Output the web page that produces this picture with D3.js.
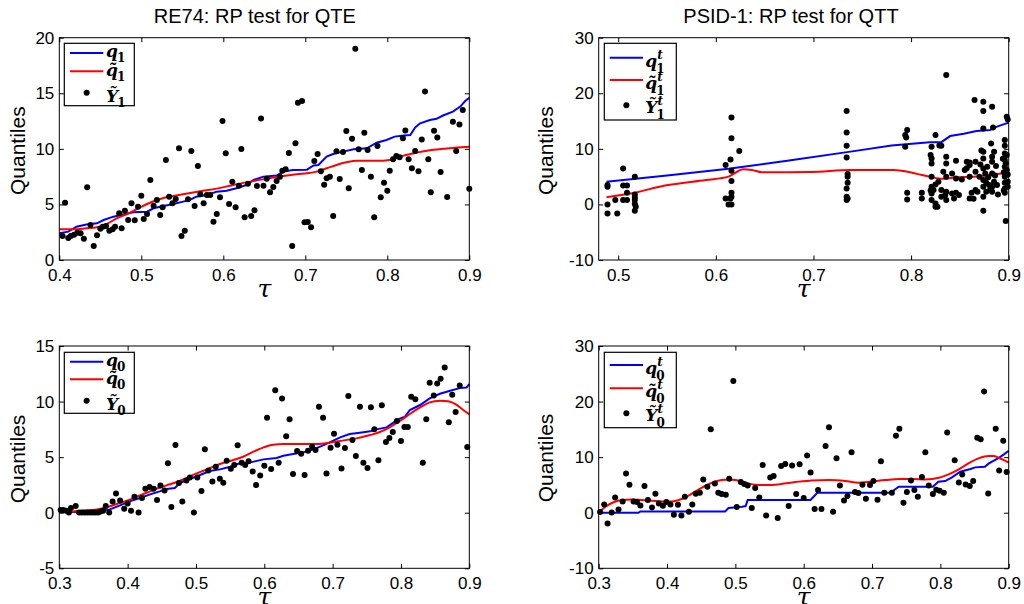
<!DOCTYPE html>
<html>
<head>
<meta charset="utf-8">
<script src="https://cdn.jsdelivr.net/npm/d3@7"></script>
<style>
body { margin: 0; background: #fff; }
svg { display: block; }
</style>
</head>
<body>
<svg id="fig" width="1024" height="604"></svg>
<script>
// ---- data: [tau, quantile] ----

// RE74, treated (top left)
var re74Y1 = [[0.404,2.16],[0.407,5.16],[0.411,1.98],[0.414,2.16],[0.418,2.28],[0.422,2.46],[0.426,2.40],[0.430,1.92],[0.434,6.54],[0.438,3.15],[0.442,1.26],[0.446,2.22],[0.450,2.82],[0.453,3.00],[0.457,3.06],[0.461,2.64],[0.465,2.76],[0.468,3.00],[0.473,4.20],[0.476,2.85],[0.480,4.44],[0.484,3.60],[0.488,5.10],[0.492,3.57],[0.496,4.80],[0.500,5.79],[0.503,3.69],[0.507,4.14],[0.511,7.20],[0.515,4.89],[0.519,5.40],[0.523,4.05],[0.526,4.74],[0.530,9.00],[0.534,5.70],[0.538,5.10],[0.542,5.49],[0.546,10.05],[0.549,2.16],[0.553,2.64],[0.557,5.46],[0.561,9.81],[0.565,4.86],[0.569,8.46],[0.572,5.91],[0.576,5.10],[0.580,5.85],[0.584,5.85],[0.588,3.45],[0.592,4.14],[0.596,5.64],[0.599,12.50],[0.603,9.60],[0.607,5.04],[0.611,7.05],[0.615,4.74],[0.619,6.69],[0.622,9.99],[0.626,3.84],[0.630,6.87],[0.634,3.96],[0.638,4.47],[0.641,6.66],[0.646,12.74],[0.649,6.69],[0.653,7.32],[0.657,6.09],[0.661,6.57],[0.665,7.11],[0.669,7.50],[0.672,8.04],[0.676,8.16],[0.680,9.63],[0.684,1.26],[0.688,10.50],[0.691,14.15],[0.696,14.30],[0.699,3.39],[0.703,3.42],[0.707,2.94],[0.711,8.90],[0.715,9.54],[0.719,7.98],[0.723,6.78],[0.726,7.35],[0.730,7.50],[0.734,3.96],[0.738,9.78],[0.742,7.29],[0.746,9.72],[0.750,11.60],[0.753,6.45],[0.757,10.90],[0.761,19.00],[0.765,9.96],[0.769,8.10],[0.772,11.45],[0.776,9.90],[0.780,7.50],[0.784,3.84],[0.788,10.25],[0.792,5.64],[0.796,6.96],[0.800,6.24],[0.803,8.04],[0.807,9.06],[0.811,9.36],[0.815,9.24],[0.819,10.95],[0.822,11.66],[0.826,9.06],[0.830,8.25],[0.834,9.80],[0.838,7.98],[0.842,10.85],[0.846,15.17],[0.850,9.06],[0.853,6.09],[0.857,11.63],[0.861,11.03],[0.865,7.92],[0.873,5.67],[0.880,12.44],[0.884,9.80],[0.888,12.20],[0.892,13.50],[0.900,6.42]];
var re74q1 = [[0.400,2.40],[0.411,2.55],[0.421,3.00],[0.433,3.20],[0.446,3.30],[0.454,3.60],[0.466,3.90],[0.478,4.10],[0.490,4.30],[0.507,4.35],[0.515,4.65],[0.527,4.86],[0.539,5.04],[0.551,5.25],[0.559,5.40],[0.567,5.70],[0.580,5.85],[0.592,6.15],[0.604,6.24],[0.616,6.45],[0.628,6.75],[0.637,7.20],[0.649,7.50],[0.665,7.60],[0.673,7.95],[0.685,8.10],[0.702,8.13],[0.710,8.50],[0.716,8.55],[0.726,9.30],[0.734,9.54],[0.746,9.75],[0.759,9.96],[0.775,10.05],[0.787,10.55],[0.799,10.80],[0.809,11.10],[0.820,11.20],[0.828,11.25],[0.834,11.93],[0.840,12.30],[0.852,12.60],[0.860,12.70],[0.868,13.00],[0.880,13.35],[0.889,13.80],[0.895,14.30],[0.900,14.60]];
var re74q1t = [[0.400,2.76],[0.417,2.76],[0.433,2.85],[0.446,2.94],[0.458,3.24],[0.470,3.75],[0.482,4.11],[0.494,4.56],[0.507,5.04],[0.519,5.40],[0.535,5.70],[0.551,5.91],[0.572,6.18],[0.592,6.42],[0.612,6.75],[0.633,7.05],[0.653,7.32],[0.673,7.56],[0.693,7.74],[0.714,7.95],[0.726,8.25],[0.738,8.55],[0.750,8.79],[0.763,8.94],[0.775,8.94],[0.795,8.94],[0.807,9.06],[0.820,9.39],[0.836,9.66],[0.852,9.87],[0.868,10.00],[0.885,10.13],[0.900,10.20]];

// PSID-1, treated (top right)
var psidY1 = [[0.489,3.48],[0.489,3.18],[0.489,0.00],[0.489,-1.62],[0.497,0.78],[0.499,-1.62],[0.505,6.48],[0.505,3.42],[0.505,0.78],[0.509,3.42],[0.509,2.10],[0.509,0.78],[0.517,4.98],[0.517,1.80],[0.517,1.26],[0.517,0.78],[0.517,0.06],[0.517,-1.14],[0.518,-0.42],
  [0.610,7.08],[0.610,1.08],[0.613,0.00],[0.615,8.10],[0.615,1.08],[0.616,15.65],[0.616,11.90],[0.616,6.06],[0.616,4.20],[0.616,2.10],[0.616,1.38],[0.616,0.00],[0.624,9.60],
  [0.734,16.80],[0.734,12.95],[0.734,10.55],[0.734,8.46],[0.735,5.46],[0.735,4.98],[0.735,3.90],[0.734,2.88],[0.734,1.38],[0.734,0.78],[0.735,1.08],
  [0.794,12.47],[0.796,13.37],[0.795,12.05],[0.794,10.37],[0.796,2.10],[0.796,0.90],[0.811,2.10],[0.811,1.08],
  [0.821,10.37],[0.821,8.28],[0.821,7.38],[0.821,4.98],[0.821,3.18],[0.821,1.98],[0.821,0.78],[0.823,2.58],[0.825,3.60],[0.825,12.47],[0.825,0.18],[0.825,-0.42],[0.828,4.08],[0.829,10.60],[0.831,10.55],[0.831,2.58],[0.831,1.38],[0.833,5.88],[0.835,1.68],[0.836,23.27],[0.836,8.58],[0.836,7.38],[0.836,4.98],[0.836,2.28],[0.836,0.78],[0.842,5.58],[0.842,1.98],[0.844,1.08],[0.846,7.86],[0.846,4.68],[0.846,2.10],[0.860,7.56],[0.860,7.08],[0.860,4.98],[0.860,1.08],[0.865,18.77],[0.866,7.68],[0.866,5.88],[0.866,2.58],[0.868,2.28],[0.874,18.47],[0.874,16.80],[0.874,13.67],[0.874,9.48],[0.874,8.28],[0.874,6.48],[0.874,4.38],[0.874,3.18],[0.874,1.38],[0.874,-1.14],[0.876,5.58],[0.877,3.90],[0.877,2.28],[0.878,6.78],[0.880,3.48],[0.882,10.97],[0.883,7.68],[0.883,8.58],[0.883,5.58],[0.883,3.18],[0.883,2.28],[0.883,17.57],[0.884,13.85],[0.885,9.48],[0.885,4.08],[0.896,11.57],[0.896,10.55],[0.896,9.18],[0.896,7.98],[0.896,6.78],[0.896,4.98],[0.896,3.90],[0.896,2.88],[0.896,2.10],[0.897,-3.00],[0.898,15.77],[0.899,15.29],[0.898,6.18],[0.898,8.88],[0.899,4.08],
  [0.849,1.70],[0.852,4.50],[0.855,6.20],[0.857,6.50],[0.862,2.10],[0.870,5.00],[0.871,7.20],[0.872,9.70],[0.879,4.90],[0.881,2.70],[0.886,5.20],[0.887,6.90],[0.888,3.50],[0.889,1.80],[0.894,8.20],[0.895,5.80],[0.895,2.50],[0.897,7.40],[0.899,3.20],[0.899,5.40],[0.820,8.90],[0.820,2.50],[0.827,-0.40],[0.857,7.70],[0.864,1.00]];
var psidq1 = [[0.488,4.10],[0.550,5.20],[0.613,6.40],[0.675,7.90],[0.738,9.50],[0.780,10.60],[0.819,11.20],[0.831,11.20],[0.840,12.30],[0.854,12.70],[0.867,13.20],[0.881,13.40],[0.888,14.00],[0.896,14.50],[0.900,14.70]];
var psidq1t = [[0.488,1.30],[0.514,2.00],[0.548,3.40],[0.590,4.40],[0.613,5.00],[0.619,5.60],[0.628,6.33],[0.637,6.20],[0.647,5.80],[0.664,5.80],[0.698,5.85],[0.738,6.20],[0.782,6.20],[0.792,6.00],[0.806,5.50],[0.819,5.00],[0.833,4.60],[0.847,4.90],[0.864,5.00],[0.881,5.30],[0.900,5.80]];

// RE74, control (bottom left)
var re74Y0 = [[0.302,0.24],[0.306,0.24],[0.310,0.18],[0.314,0.03],[0.317,0.42],[0.324,0.60],[0.329,0.03],[0.333,0.03],[0.337,0.03],[0.341,0.03],[0.345,0.03],[0.349,0.03],[0.353,0.03],[0.357,0.03],[0.360,0.12],[0.364,0.18],[0.368,0.60],[0.373,0.03],[0.378,1.02],[0.383,1.74],[0.389,1.11],[0.395,0.36],[0.400,0.84],[0.405,0.18],[0.410,1.44],[0.416,0.03],[0.421,1.32],[0.426,2.16],[0.432,2.31],[0.438,2.16],[0.443,1.14],[0.448,2.46],[0.454,2.01],[0.459,4.44],[0.464,0.51],[0.470,6.09],[0.475,2.67],[0.480,1.02],[0.486,2.91],[0.491,3.18],[0.497,0.03],[0.502,3.18],[0.508,1.95],[0.513,5.70],[0.518,3.81],[0.524,2.82],[0.529,4.14],[0.535,3.06],[0.540,2.70],[0.545,4.68],[0.551,3.96],[0.556,4.29],[0.561,6.06],[0.567,4.50],[0.572,4.29],[0.577,4.62],[0.583,3.72],[0.588,2.49],[0.594,3.36],[0.600,4.23],[0.604,8.55],[0.610,3.93],[0.616,11.03],[0.621,4.50],[0.626,10.28],[0.632,6.87],[0.637,8.40],[0.642,3.48],[0.648,5.55],[0.654,5.31],[0.659,3.39],[0.664,5.58],[0.670,5.94],[0.675,5.64],[0.680,9.54],[0.686,8.55],[0.691,3.54],[0.697,5.85],[0.702,7.11],[0.707,6.12],[0.713,3.99],[0.718,5.82],[0.723,10.50],[0.729,6.54],[0.734,5.10],[0.740,9.54],[0.745,4.50],[0.751,4.02],[0.756,9.48],[0.761,7.50],[0.767,4.71],[0.772,9.66],[0.778,6.36],[0.783,6.72],[0.788,7.26],[0.794,8.25],[0.800,6.45],[0.805,7.71],[0.810,7.71],[0.815,10.43],[0.821,10.20],[0.832,4.50],[0.837,8.40],[0.842,11.69],[0.848,10.55],[0.853,11.63],[0.858,12.05],[0.864,13.07],[0.870,8.13],[0.875,10.61],[0.880,9.06],[0.886,11.45],[0.897,5.91]];
var re74q0 = [[0.300,0.06],[0.320,0.06],[0.340,0.12],[0.360,0.18],[0.374,0.30],[0.389,0.66],[0.403,1.02],[0.418,1.32],[0.433,1.65],[0.447,1.92],[0.457,2.13],[0.469,2.22],[0.477,2.70],[0.491,3.03],[0.506,3.39],[0.520,3.75],[0.535,3.90],[0.550,4.14],[0.564,4.44],[0.574,4.44],[0.586,4.62],[0.599,4.80],[0.618,4.92],[0.628,5.13],[0.642,5.28],[0.657,5.43],[0.672,5.70],[0.686,6.06],[0.701,6.48],[0.711,6.78],[0.725,7.08],[0.740,7.20],[0.755,7.32],[0.764,7.50],[0.779,7.68],[0.789,8.10],[0.799,8.49],[0.806,8.64],[0.813,9.24],[0.828,9.69],[0.842,10.28],[0.857,10.70],[0.872,10.97],[0.886,11.21],[0.896,11.27],[0.900,11.57]];
var re74q0t = [[0.300,0.15],[0.311,0.06],[0.325,0.15],[0.340,0.21],[0.355,0.30],[0.369,0.48],[0.384,0.78],[0.399,1.08],[0.413,1.44],[0.428,1.80],[0.442,2.16],[0.457,2.46],[0.472,2.76],[0.486,3.12],[0.501,3.54],[0.516,3.90],[0.535,4.38],[0.555,4.74],[0.569,5.04],[0.584,5.49],[0.599,5.88],[0.613,6.12],[0.628,6.18],[0.652,6.18],[0.677,6.18],[0.696,6.30],[0.716,6.51],[0.735,6.69],[0.755,6.99],[0.769,7.26],[0.784,7.71],[0.799,8.28],[0.813,8.88],[0.828,9.48],[0.842,9.93],[0.857,10.08],[0.869,10.02],[0.881,9.72],[0.891,9.24],[0.900,8.85]];

// PSID-1, control (bottom right)
var psidY0 = [[0.302,0.12],[0.308,1.50],[0.313,-1.92],[0.319,0.06],[0.324,2.76],[0.329,0.60],[0.335,2.04],[0.340,7.08],[0.345,5.04],[0.351,2.04],[0.356,1.92],[0.361,1.32],[0.367,4.80],[0.372,2.28],[0.378,0.96],[0.383,3.42],[0.388,1.68],[0.394,1.26],[0.399,1.92],[0.405,1.50],[0.410,-0.36],[0.416,1.44],[0.421,-0.48],[0.426,2.88],[0.432,0.18],[0.437,1.50],[0.442,3.42],[0.448,3.60],[0.453,6.00],[0.459,4.68],[0.464,15.00],[0.470,5.28],[0.475,3.60],[0.480,3.36],[0.486,3.24],[0.491,6.12],[0.497,23.70],[0.502,1.02],[0.508,5.52],[0.513,5.16],[0.518,4.92],[0.524,0.84],[0.529,4.44],[0.535,2.76],[0.540,8.58],[0.545,-0.48],[0.551,6.36],[0.556,6.60],[0.562,-0.96],[0.567,8.40],[0.573,8.76],[0.578,1.20],[0.583,8.52],[0.589,3.36],[0.594,8.70],[0.600,2.64],[0.605,10.30],[0.610,7.26],[0.616,0.66],[0.621,4.08],[0.626,0.66],[0.632,12.00],[0.637,15.40],[0.643,0.18],[0.648,9.78],[0.653,4.92],[0.659,2.22],[0.664,3.00],[0.670,10.90],[0.675,3.72],[0.680,3.54],[0.686,5.04],[0.691,2.52],[0.697,4.98],[0.702,5.70],[0.708,2.34],[0.713,9.24],[0.718,3.60],[0.729,3.60],[0.735,13.85],[0.740,15.10],[0.746,1.80],[0.751,3.72],[0.757,5.82],[0.762,4.08],[0.767,2.88],[0.773,6.42],[0.778,10.90],[0.783,4.92],[0.789,3.36],[0.794,4.14],[0.799,3.96],[0.805,3.60],[0.810,14.45],[0.821,9.42],[0.827,5.46],[0.832,6.90],[0.837,5.10],[0.843,4.80],[0.848,5.70],[0.854,13.50],[0.859,13.20],[0.864,21.80],[0.870,3.48],[0.881,15.10],[0.886,7.62],[0.892,12.95],[0.897,7.32]];
var psidq0 = [[0.300,0.00],[0.358,0.00],[0.361,0.24],[0.485,0.24],[0.490,0.84],[0.510,1.08],[0.515,1.20],[0.518,2.28],[0.610,2.28],[0.620,3.60],[0.727,3.60],[0.739,4.68],[0.789,4.68],[0.797,5.58],[0.807,5.70],[0.817,6.36],[0.829,7.38],[0.844,7.86],[0.851,8.16],[0.865,8.28],[0.871,8.88],[0.885,9.84],[0.893,10.50],[0.900,11.15]];
var psidq0t = [[0.300,0.06],[0.310,1.08],[0.320,1.80],[0.334,2.28],[0.349,2.40],[0.363,2.28],[0.378,2.16],[0.393,2.04],[0.407,2.04],[0.422,2.52],[0.437,3.48],[0.451,4.50],[0.466,5.40],[0.480,5.88],[0.490,6.00],[0.500,5.88],[0.515,5.40],[0.529,5.04],[0.544,4.98],[0.563,5.10],[0.588,5.52],[0.612,5.82],[0.637,5.88],[0.661,5.70],[0.680,5.40],[0.700,5.64],[0.720,5.88],[0.739,6.06],[0.759,6.06],[0.778,6.00],[0.798,6.30],[0.812,6.90],[0.827,7.80],[0.841,8.88],[0.856,9.78],[0.871,10.20],[0.878,10.20],[0.885,9.90],[0.893,9.48],[0.900,9.00]];

// ticks
var ticksX1 = [0.4, 0.5, 0.6, 0.7, 0.8, 0.9];
var ticksX2 = [0.5, 0.6, 0.7, 0.8, 0.9];
var ticksX3 = [0.3, 0.4, 0.5, 0.6, 0.7, 0.8, 0.9];
var labelsX1 = ["0.4", "0.5", "0.6", "0.7", "0.8", "0.9"];
var labelsX2 = ["0.5", "0.6", "0.7", "0.8", "0.9"];
var labelsX3 = ["0.3", "0.4", "0.5", "0.6", "0.7", "0.8", "0.9"];
var ticksY1 = [0, 5, 10, 15, 20];
var ticksY2 = [-10, 0, 10, 20, 30];
var ticksY3 = [-5, 0, 5, 10, 15];
var labelsY1 = ["0", "5", "10", "15", "20"];
var labelsY2 = ["-10", "0", "10", "20", "30"];
var labelsY3 = ["-5", "0", "5", "10", "15"];

var titles = ["RE74: RP test for QTE", "PSID-1: RP test for QTT"];

var SANS = "'Liberation Sans', Arial, Helvetica, sans-serif";
var MATH = "'DejaVu Serif', serif";
var W = 410, H = 222.3;

var svg = d3.select("#fig");

// legend label: letter (with combining tilde) plus subscript and optional superscript
function mathLabel(g, x, y, letter, tilde, sub, sup) {
    var t = g.append("text")
        .attr("x", x).attr("y", y)
        .attr("font-family", MATH).attr("font-style", "italic").attr("font-weight", "bold")
        .attr("font-size", 17)
        .text(letter + (tilde ? "\u0303" : ""));
    var w = t.node().getComputedTextLength();
    g.append("text")
        .attr("x", x + w - 1).attr("y", y + (sup ? 6 : 5))
        .attr("font-family", MATH).attr("font-weight", "bold").attr("font-size", 12)
        .text(sub);
    if (sup) {
        g.append("text")
            .attr("x", x + w).attr("y", y - 8)
            .attr("font-family", MATH).attr("font-style", "italic").attr("font-weight", "bold")
            .attr("font-size", 12)
            .text(sup);
    }
}

function drawPanel(p) {
    var g = svg.append("g").attr("transform", "translate(" + p.left + "," + p.top + ")");

    var x = d3.scaleLinear().domain(p.xDomain).range([0, W]);
    var y = d3.scaleLinear().domain(p.yDomain).range([H, 0]);

    // axes, ticks pointing inward on all four sides
    g.append("g").attr("transform", "translate(0," + H + ")")
        .call(d3.axisBottom(x).tickValues(p.xTicks)
            .tickFormat(function (d, i) { return p.xLabels[i]; })
            .tickSize(-4.5).tickPadding(8.5));
    g.append("g")
        .call(d3.axisTop(x).tickValues(p.xTicks).tickFormat("").tickSize(-4.5));
    g.append("g")
        .call(d3.axisLeft(y).tickValues(p.yTicks)
            .tickFormat(function (d, i) { return p.yLabels[i]; })
            .tickSize(-4.5).tickPadding(5));
    g.append("g").attr("transform", "translate(" + W + ",0)")
        .call(d3.axisRight(y).tickValues(p.yTicks).tickFormat("").tickSize(-4.5));

    g.selectAll(".domain").remove();
    g.selectAll(".tick line").attr("stroke", "#000");
    g.selectAll(".tick text")
        .attr("font-family", SANS).attr("font-size", 17).attr("fill", "#000");

    var line = d3.line()
        .x(function (d) { return x(d[0]); })
        .y(function (d) { return y(d[1]); });

    g.append("path").datum(p.blue)
        .attr("fill", "none").attr("stroke", "#0000ff").attr("stroke-width", 2)
        .attr("d", line);
    g.append("path").datum(p.red)
        .attr("fill", "none").attr("stroke", "#ff0000").attr("stroke-width", 2)
        .attr("d", line.curve(d3.curveMonotoneX));

    g.selectAll(".pt").data(p.points).enter()
        .append("circle")
        .attr("class", "pt")
        .attr("cx", function (d) { return x(d[0]); })
        .attr("cy", function (d) { return y(d[1]); })
        .attr("r", 3)
        .attr("fill", "#000");

    g.append("rect")
        .attr("width", W).attr("height", H)
        .attr("fill", "none").attr("stroke", "#000").attr("stroke-width", 1);

    if (p.title) {
        g.append("text")
            .attr("x", p.titleX).attr("y", -15)
            .attr("text-anchor", "middle")
            .attr("font-family", SANS).attr("font-size", 20)
            .text(p.title);
    }

    g.append("text")
        .attr("transform", "translate(" + p.ylabX + "," + p.ylabY + ") rotate(-90)")
        .attr("text-anchor", "middle")
        .attr("font-family", SANS).attr("font-size", 21)
        .text("Quantiles");

    g.append("text")
        .attr("x", W / 2).attr("y", H + 37)
        .attr("text-anchor", "middle")
        .attr("font-family", "'DejaVu Serif', serif").attr("font-style", "italic")
        .attr("font-size", 25)
        .text("\u03C4");

    // legend
    var L = p.legend;
    var lg = g.append("g").attr("transform", "translate(" + L.x + "," + L.y + ")");
    lg.append("rect")
        .attr("width", L.w).attr("height", L.h)
        .attr("fill", "#fff").attr("stroke", "#000").attr("stroke-width", 1.2);
    lg.append("line")
        .attr("x1", L.x1).attr("x2", L.x2).attr("y1", L.rows[0]).attr("y2", L.rows[0])
        .attr("stroke", "#0000ff").attr("stroke-width", 2);
    lg.append("line")
        .attr("x1", L.x1).attr("x2", L.x2).attr("y1", L.rows[1]).attr("y2", L.rows[1])
        .attr("stroke", "#ff0000").attr("stroke-width", 2);
    lg.append("circle")
        .attr("cx", (L.x1 + L.x2) / 2).attr("cy", L.rows[2]).attr("r", 3).attr("fill", "#000");

    var sup = p.sup;
    var qOff = sup ? 9 : 4.3, yOff = sup ? 8 : 9;
    mathLabel(lg, L.tx, L.rows[0] + qOff, "q", false, p.sub, sup);
    mathLabel(lg, L.tx, L.rows[1] + qOff, "q", true, p.sub, sup);
    mathLabel(lg, L.tx, L.rows[2] + yOff, "Y", true, p.sub, sup);
}

drawPanel({
    left: 59.3, top: 37.7,
    xDomain: [0.4, 0.9], yDomain: [0, 20],
    xTicks: ticksX1, xLabels: labelsX1, yTicks: ticksY1, yLabels: labelsY1,
    points: re74Y1, blue: re74q1, red: re74q1t,
    title: titles[0], titleX: 195.5,
    ylabX: -34.3, ylabY: 113,
    sub: "1", sup: null,
    legend: { x: 5, y: 5.6, w: 70, h: 62.4, x1: 5.7, x2: 39, tx: 41.7, rows: [9.8, 28, 49.5] }
});

drawPanel({
    left: 598.7, top: 37.7,
    xDomain: [0.48, 0.9], yDomain: [-10, 30],
    xTicks: ticksX2, xLabels: labelsX2, yTicks: ticksY2, yLabels: labelsY2,
    points: psidY1, blue: psidq1, red: psidq1t,
    title: titles[1], titleX: 192.3,
    ylabX: -45.7, ylabY: 113,
    sub: "1", sup: "t",
    legend: { x: 5.6, y: 5.6, w: 72, h: 76.7, x1: 5.4, x2: 38.7, tx: 41, rows: [14.4, 36.7, 62] }
});

drawPanel({
    left: 59.3, top: 346,
    xDomain: [0.3, 0.9], yDomain: [-5, 15],
    xTicks: ticksX3, xLabels: labelsX3, yTicks: ticksY3, yLabels: labelsY3,
    points: re74Y0, blue: re74q0, red: re74q0t,
    title: null,
    ylabX: -34.3, ylabY: 113,
    sub: "0", sup: null,
    legend: { x: 5, y: 6.3, w: 70, h: 61, x1: 5.7, x2: 39, tx: 41.7, rows: [9.4, 27, 48.4] }
});

drawPanel({
    left: 598.7, top: 346,
    xDomain: [0.3, 0.9], yDomain: [-10, 30],
    xTicks: ticksX3, xLabels: labelsX3, yTicks: ticksY2, yLabels: labelsY2,
    points: psidY0, blue: psidq0, red: psidq0t,
    title: null,
    ylabX: -45.7, ylabY: 112,
    sub: "0", sup: "t",
    legend: { x: 5.6, y: 6.3, w: 72, h: 75.4, x1: 5.4, x2: 38.7, tx: 41, rows: [12.7, 36, 61] }
});
</script>
</body>
</html>
